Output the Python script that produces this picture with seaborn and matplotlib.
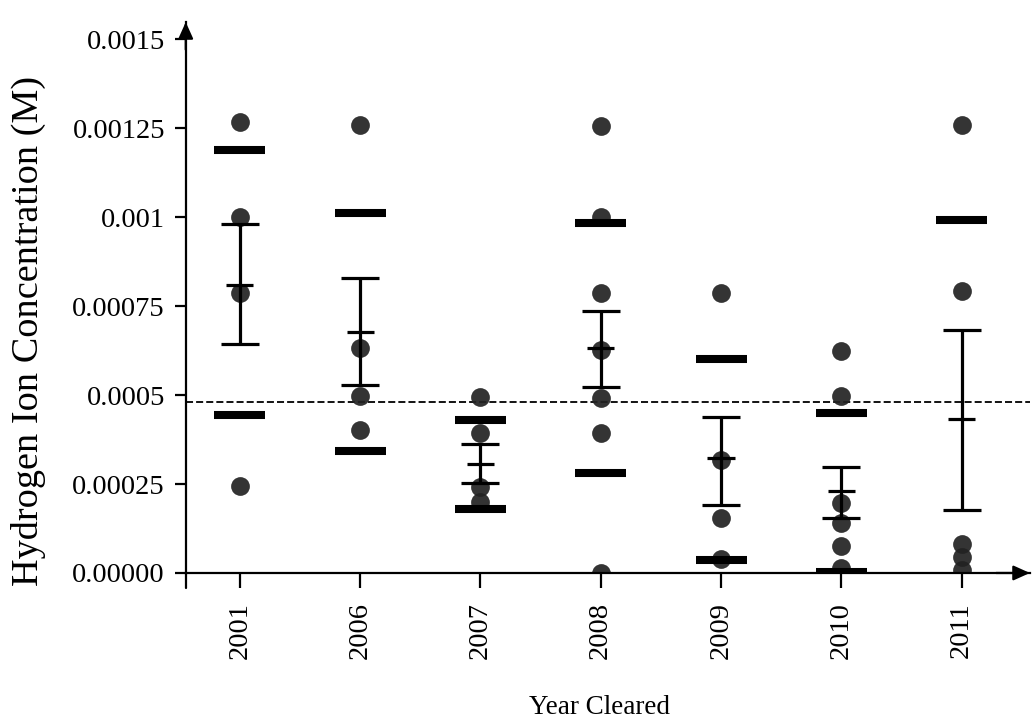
import numpy as np
import pandas as pd
import matplotlib
matplotlib.use("Agg")
import matplotlib.pyplot as plt
import seaborn as sns

years = ["2001", "2006", "2007", "2008", "2009", "2010", "2011"]

points = {
    "2001": [0.001266, 0.001, 0.000786, 0.000245],
    "2006": [0.00126, 0.000633, 0.000497, 0.000402],
    "2007": [0.000495, 0.000394, 0.000242, 0.000199],
    "2008": [0.001256, 0.001, 0.000787, 0.000626, 0.000491, 0.000392, 0.0],
    "2009": [0.000787, 0.000317, 0.000154, 0.0000385],
    "2010": [0.000624, 0.000497, 0.000196, 0.00014, 0.0000758, 0.0000132],
    "2011": [0.001258, 0.000792, 0.0000815, 0.0000459, 0.0000084],
}

means = [0.000809, 0.000676, 0.000305, 0.000631, 0.000322, 0.000231, 0.000434]
sem_lo = [0.000643, 0.000528, 0.000254, 0.000523, 0.000191, 0.000155, 0.000177]
sem_hi = [0.00098, 0.000828, 0.000362, 0.000737, 0.000439, 0.000299, 0.000684]
band_lo = [0.000444, 0.000344, 0.000179, 0.000282, 0.0000365, 0.0000037, -0.000125]
band_hi = [0.001188, 0.001012, 0.00043, 0.000984, 0.000601, 0.00045, 0.000993]

ref_line = 0.00048

y_ticks = [0.0, 0.00025, 0.0005, 0.00075, 0.001, 0.00125, 0.0015]
y_tick_labels = ["0.00000", "0.00025", "0.0005", "0.00075", "0.001", "0.00125", "0.0015"]

df = pd.DataFrame(
    [(y, v) for y in years for v in points[y]], columns=["year", "conc"]
)

sns.set_style("ticks")
plt.rcParams["font.family"] = ["Liberation Serif", "DejaVu Serif"]
plt.rcParams["text.color"] = "black"
plt.rcParams["axes.labelcolor"] = "black"
plt.rcParams["xtick.color"] = "black"
plt.rcParams["ytick.color"] = "black"

fig = plt.figure(figsize=(10.32, 7.22), dpi=100)
ax = fig.add_axes([0.180, 0.2064, 0.818, 0.763])

sns.stripplot(data=df, x="year", y="conc", order=years, jitter=False,
              color="#222222", size=13.5, linewidth=0, alpha=0.92, ax=ax, zorder=2)

x = np.arange(len(years))
m = np.array(means)
ax.errorbar(x, m, yerr=[m - np.array(sem_lo), np.array(sem_hi) - m], fmt="none",
            ecolor="black", elinewidth=2.3, capsize=13.7, capthick=2.3, zorder=3)
ax.hlines(m, x - 0.113, x + 0.113, colors="black", lw=2.3, zorder=3)
ax.hlines(band_lo, x - 0.212, x + 0.212, colors="black", lw=5.8, zorder=3)
ax.hlines(band_hi, x - 0.212, x + 0.212, colors="black", lw=5.8, zorder=3)

ax.axhline(ref_line, color="black", lw=1.3, ls=(0, (3.9, 1.7)), zorder=1)

ax.set_xlim(-0.449, 6.567)
ax.set_ylim(0, 0.001548)
ax.set_yticks(y_ticks)
ax.set_yticklabels(y_tick_labels)

sns.despine(ax=ax)
for s in ["left", "bottom"]:
    ax.spines[s].set_linewidth(1.6)
    ax.spines[s].set_color("black")
ax.tick_params(axis="y", length=8, width=1.6, pad=7, labelsize=20.5)
ax.tick_params(axis="x", length=11, width=1.6, pad=10, labelsize=20.5, labelrotation=90)

# little downward stub at the origin
ax.plot([0, 0], [-0.027, 0], transform=ax.transAxes, color="black", lw=1.6, clip_on=False)

arrow = dict(arrowstyle="-|>,head_length=1.0,head_width=0.45", color="black",
             lw=1.6, shrinkA=0, shrinkB=0)
ax.annotate("", xy=(1, 0), xytext=(0.96, 0), xycoords="axes fraction", arrowprops=arrow)
ax.annotate("", xy=(0, 1), xytext=(0, 0.95), xycoords="axes fraction", arrowprops=arrow)

ax.set_xlabel("Year Cleared", fontsize=19.5)
ax.set_ylabel("Hydrogen Ion Concentration (M)", fontsize=27.5)
ax.xaxis.set_label_coords(0.49, -0.221)
ax.yaxis.set_label_coords(-0.165, 0.44)

fig.savefig("out.png", dpi=100)
